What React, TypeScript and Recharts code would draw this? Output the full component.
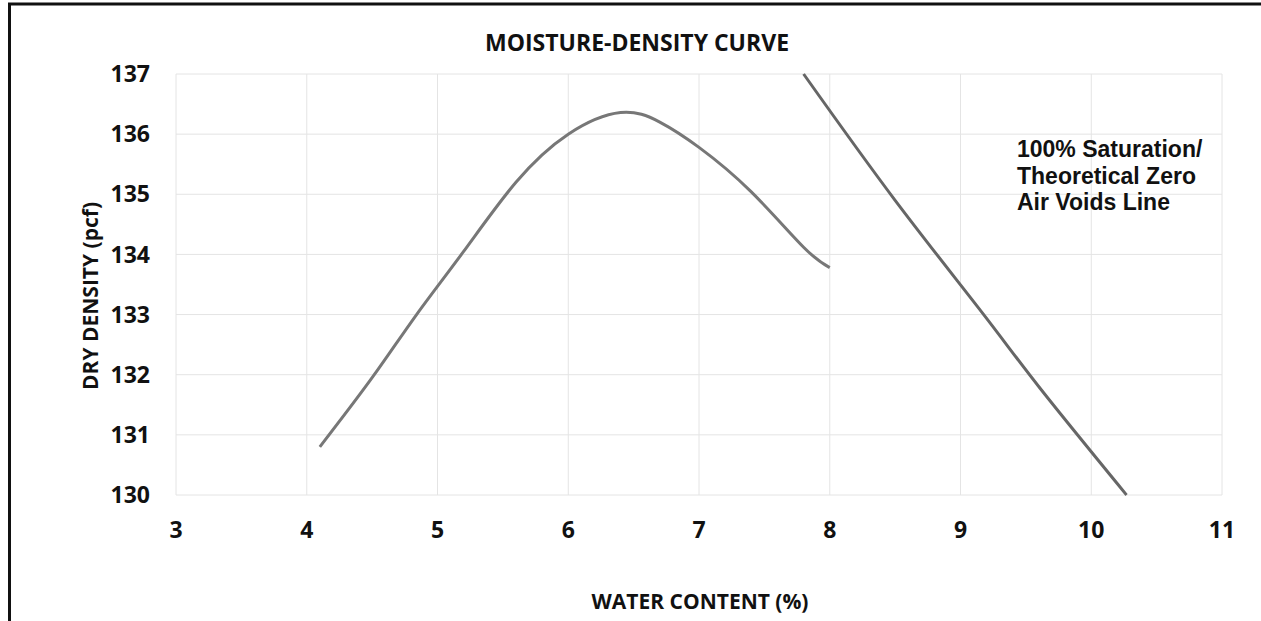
import React from "react";
import {
  CartesianGrid,
  Line,
  LineChart,
  XAxis,
  YAxis,
} from "recharts";

// water content (%) vs dry density (pcf)
const curveWater = [4.1, 4.5, 4.84, 5.2, 5.6, 6.0, 6.4, 6.7, 7.0, 7.4, 7.8, 8.0];
const curveDensity = [130.8, 131.95, 133.0, 134.05, 135.2, 136.0, 136.36, 136.2, 135.78, 135.04, 134.12, 133.78];

// 100% saturation / zero air voids line
const zavWater = [7.8, 8.5, 9.17, 9.61, 10.27];
const zavDensity = [137.0, 134.9, 133.02, 131.77, 130.0];

const xTicks = [3, 4, 5, 6, 7, 8, 9, 10, 11];
const yTicks = [130, 131, 132, 133, 134, 135, 136, 137];

const noteLines = ["100% Saturation/", "Theoretical Zero", "Air Voids Line"];

const curveData = curveWater.map((w, i) => ({ w, d: curveDensity[i] }));
const zavData = zavWater.map((w, i) => ({ w, d: zavDensity[i] }));

const W = 1261;
const H = 621;
const font = "'Open Sans', sans-serif";

const App = () => {
  return (
    <div style={{ position: "relative", width: W, height: H, background: "#fff" }}>
      <style>{`body{margin:0}`}</style>
      <LineChart width={W} height={H} margin={{ top: 74, right: 39, bottom: 96, left: 0 }}>
        <CartesianGrid stroke="#e4e4e4" strokeWidth={1} />
        <XAxis
          type="number"
          dataKey="w"
          domain={[3, 11]}
          ticks={xTicks}
          axisLine={false}
          tickLine={false}
          tickSize={0}
          tickMargin={27}
          tick={{ fill: "#111", fontSize: 23, fontWeight: 700, fontFamily: font }}
          allowDuplicatedCategory={false}
        />
        <YAxis
          type="number"
          dataKey="d"
          domain={[130, 137]}
          ticks={yTicks}
          width={176}
          axisLine={false}
          tickLine={false}
          tickSize={0}
          tickMargin={26}
          tick={{ fill: "#111", fontSize: 23, fontWeight: 700, fontFamily: font }}
        />
        <Line
          data={curveData}
          dataKey="d"
          type="natural"
          stroke="#777"
          strokeWidth={3}
          dot={false}
          isAnimationActive={false}
        />
        <Line
          data={zavData}
          dataKey="d"
          type="natural"
          stroke="#666"
          strokeWidth={3}
          dot={false}
          isAnimationActive={false}
        />
      </LineChart>

      <svg
        width={W}
        height={H}
        style={{ position: "absolute", left: 0, top: 0, pointerEvents: "none" }}
      >
        {/* scanned frame: only top and left edges show */}
        <line x1={8} y1={4} x2={W} y2={4} stroke="#111" strokeWidth={3} />
        <line x1={9.5} y1={3} x2={9.5} y2={H} stroke="#111" strokeWidth={3} />

        <text x={637} y={51} textAnchor="middle" fontFamily={font} fontWeight={700} fontSize={23} fill="#111">
          MOISTURE-DENSITY CURVE
        </text>
        <text x={700} y={609} textAnchor="middle" fontFamily={font} fontWeight={700} fontSize={21} fill="#111">
          WATER CONTENT (%)
        </text>
        <text
          transform="translate(98,296) rotate(-90)"
          textAnchor="middle"
          fontFamily={font}
          fontWeight={700}
          fontSize={21}
          fill="#111"
        >
          DRY DENSITY (pcf)
        </text>

        {noteLines.map((t, i) => (
          <text
            key={t}
            x={1017}
            y={157 + i * 26.5}
            fontFamily="'Liberation Sans', Arial, sans-serif"
            fontWeight={700}
            fontSize={23}
            fill="#111"
          >
            {t}
          </text>
        ))}
      </svg>
    </div>
  );
};

export default App;
